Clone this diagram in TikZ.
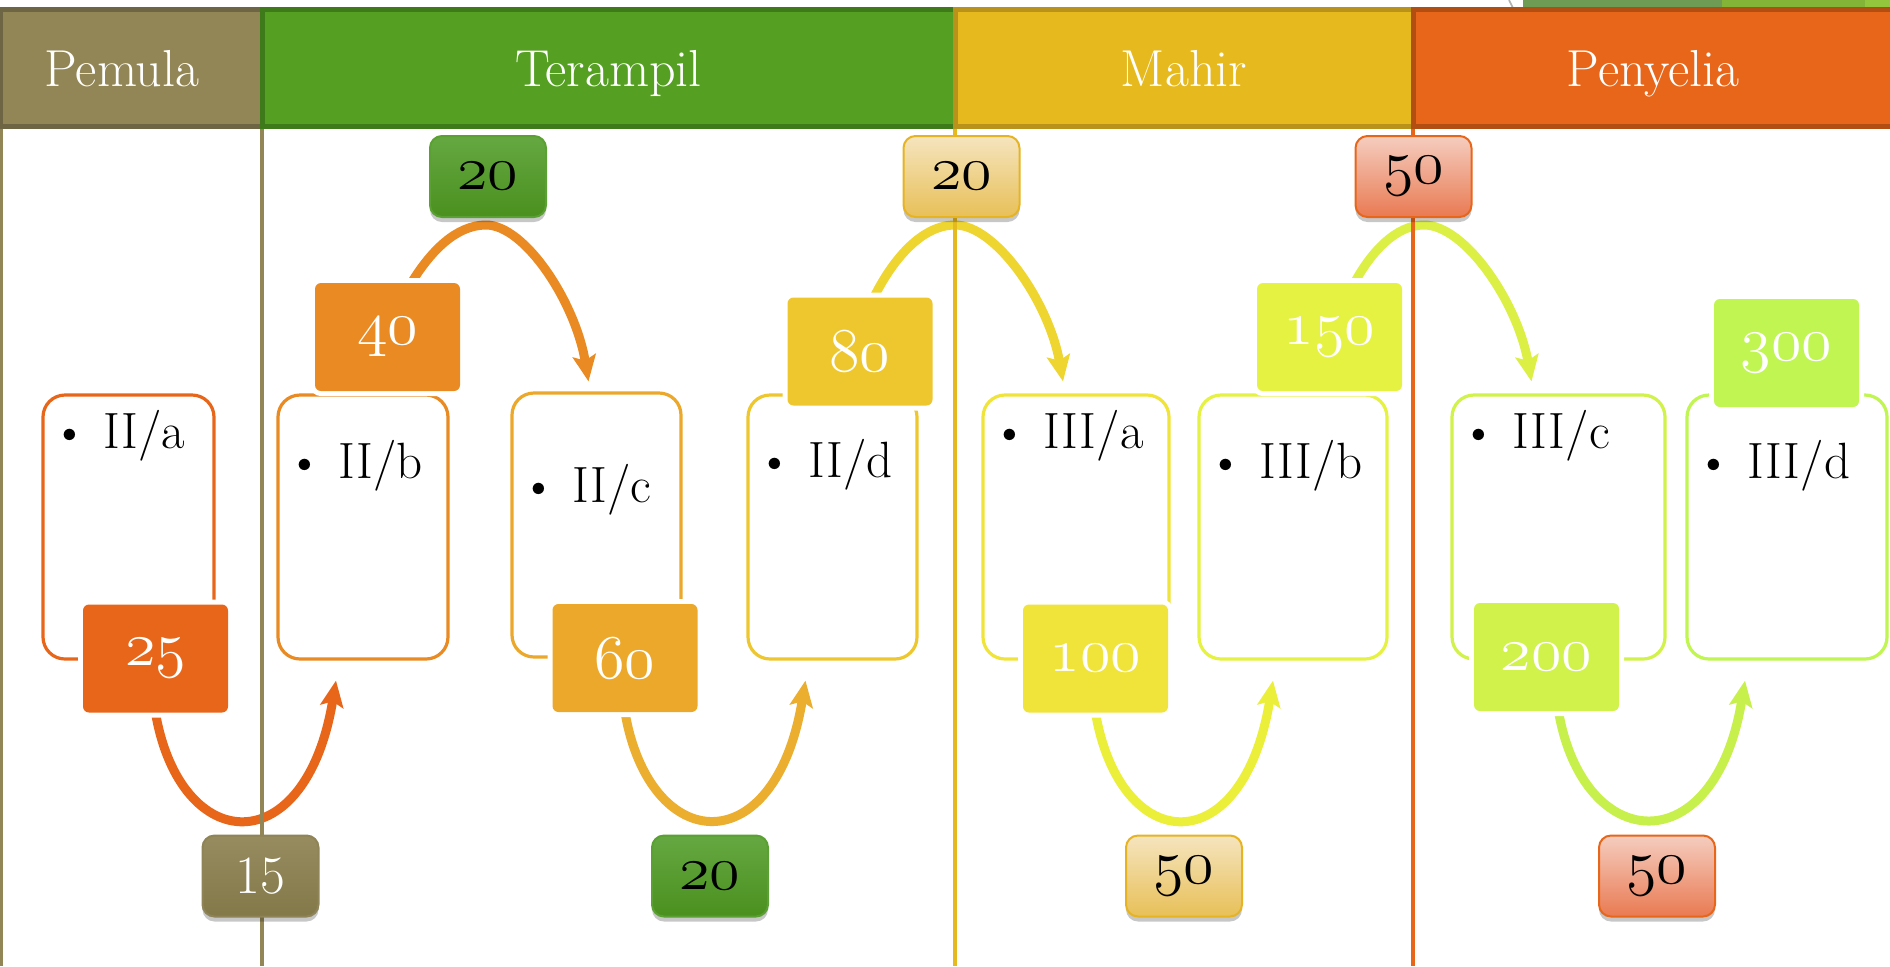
\documentclass[tikz,border=0pt]{standalone}
\usepackage{graphicx}
\usetikzlibrary{arrows.meta,shadows,calc}
\pgfdeclarelayer{bglayer}
\pgfdeclarelayer{arrowlayer}
\pgfsetlayers{bglayer,arrowlayer,main}
\definecolor{cPem}{HTML}{928656}
\definecolor{cPemD}{HTML}{6E6545}
\definecolor{cTer}{HTML}{55A023}
\definecolor{cTerD}{HTML}{3E7A1A}
\definecolor{cMah}{HTML}{E6B91E}
\definecolor{cMahD}{HTML}{B8921A}
\definecolor{cPen}{HTML}{E8661A}
\definecolor{cPenD}{HTML}{B34E12}
\definecolor{k1}{HTML}{E8661A}
\definecolor{k2}{HTML}{E98A22}
\definecolor{k3}{HTML}{ECA82A}
\definecolor{k4}{HTML}{EEC72E}
\definecolor{k5}{HTML}{F0E43A}
\definecolor{k6}{HTML}{E6F242}
\definecolor{k7}{HTML}{D0F24A}
\definecolor{k8}{HTML}{C0F552}
\definecolor{a3}{HTML}{EBAE2E}
\definecolor{a4}{HTML}{EED52F}
\definecolor{a5}{HTML}{ECEF3A}
\definecolor{a6}{HTML}{DCEF45}
\definecolor{a7}{HTML}{C8F04C}
\definecolor{gT}{HTML}{65A842}
\definecolor{gB}{HTML}{4A901E}
\definecolor{gD}{HTML}{5AA032}
\definecolor{yT}{HTML}{F5E4BE}
\definecolor{yB}{HTML}{E8C058}
\definecolor{yD}{HTML}{E6B422}
\definecolor{rT}{HTML}{F5CDBF}
\definecolor{rB}{HTML}{E97A52}
\definecolor{rD}{HTML}{E8661A}
\definecolor{oT}{HTML}{978C60}
\definecolor{oB}{HTML}{837848}
\definecolor{oD}{HTML}{8E8458}
\definecolor{dec1}{HTML}{6F9C55}
\definecolor{dec2}{HTML}{83B337}
\definecolor{dec3}{HTML}{93C53D}
\newcommand\bulfont{\fontsize{25.5}{30}\selectfont}
\newcommand\hdrfont{\fontsize{26}{31}\selectfont}
\newcommand\linfont{\fontsize{27}{32}\selectfont}
\newcommand\osn[1]{\scalebox{1.25}{\usefont{OML}{cmm}{m}{it}\fontsize{24.88}{30}\selectfont #1}}
\begin{document}
\begin{tikzpicture}[x=0.5pt,y=-0.5pt,
  hdr/.style 2 args={rectangle, fill=#1, draw=#2, minimum height=58.5pt, line width=2.5pt, text=white, font=\hdrfont, text height=18.5pt, text depth=0pt, inner sep=0pt, outer sep=0pt},
  item/.style={rectangle, draw=#1, fill=white, line width=1.6pt, rounded corners=11pt, minimum height=132pt, inner sep=0pt},
  val/.style={rectangle, fill=#1, rounded corners=3pt, minimum width=72.5pt, minimum height=54pt, text=white, inner sep=0pt, preaction={draw=white, line width=5pt}},
  sbox/.style n args={3}{rectangle, top color=#1, bottom color=#2, draw=#3, line width=1pt, rounded corners=6pt, minimum width=58pt, minimum height=40.5pt, inner sep=0pt, drop shadow={shadow xshift=0pt, shadow yshift=-2.5pt, opacity=0.22, fill=black}},
  bul/.style={anchor=base west, inner sep=0pt, font=\bulfont},
  arr/.style={draw=#1, line width=4.5pt, -{Stealth[length=13pt,width=11.5pt,inset=2.5pt]}},
  vline/.style={draw=#1, line width=1.8pt}
]
\useasboundingbox (0,0) rectangle (1890,966);
\begin{pgfonlayer}{bglayer}
\fill[white] (0,0) rectangle (1890,966);
\end{pgfonlayer}

% top-right decoration
\fill[dec1] (1523,0) rectangle (1722,8);
\fill[dec2] (1722,0) rectangle (1865,8);
\fill[dec3] (1865,0) rectangle (1890,8);
\draw[gray!60, line width=0.8pt] (1509,0) -- (1513,8);

% header
\node[hdr={cPem}{cPemD}, minimum width=131pt] (hPem) at (131,67.5) {\hspace{-9pt}Pemula};
\node[hdr={cTer}{cTerD}, minimum width=346.5pt] (hTer) at (608.5,67.5) {Terampil};
\node[hdr={cMah}{cMahD}, minimum width=229pt] (hMah) at (1184,67.5) {Mahir};
\node[hdr={cPen}{cPenD}, minimum width=240pt] (hPen) at (1653,67.5) {Penyelia};

% item boxes
\node[item=k1, minimum width=85.5pt] (b1) at (128.5,527) {};
\node[item=k2, minimum width=85pt]   (b2) at (363,527) {};
\node[item=k3, minimum width=84.5pt] (b3) at (596.5,525) {};
\node[item=k4, minimum width=84.5pt] (b4) at (832.5,527) {};
\node[item=k5, minimum width=93pt]   (b5) at (1076,527) {};
\node[item=k6, minimum width=94pt]   (b6) at (1293,527) {};
\node[item=k7, minimum width=106.5pt] (b7) at (1558.5,527) {};
\node[item=k8, minimum width=100pt]  (b8) at (1787,527) {};

% bullet labels
\node[bul] (l1) at ($(b1.north west)+(10,55)$) {\makebox[26pt][l]{\textbullet}II/a};
\node[bul] (l2) at ($(b2.north west)+(10,85)$) {\makebox[26pt][l]{\textbullet}II/b};
\node[bul] (l3) at ($(b3.north west)+(10,111)$) {\makebox[26pt][l]{\textbullet}II/c};
\node[bul] (l4) at ($(b4.north west)+(10,84)$) {\makebox[26pt][l]{\textbullet}II/d};
\node[bul] (l5) at ($(b5.north west)+(10,55)$) {\makebox[26pt][l]{\textbullet}III/a};
\node[bul] (l6) at ($(b6.north west)+(10,85)$) {\makebox[26pt][l]{\textbullet}III/b};
\node[bul] (l7) at ($(b7.north west)+(10,55)$) {\makebox[26pt][l]{\textbullet}III/c};
\node[bul] (l8) at ($(b8.north west)+(10,85)$) {\makebox[26pt][l]{\textbullet}III/d};

% value boxes
\node[val=k1] (v25)  at (155.5,658.5) {\osn{25}};
\node[val=k2] (v40)  at (387.5,337)   {\osn{40}};
\node[val=k3] (v60)  at (625,658)     {\osn{60}};
\node[val=k4] (v80)  at (860,351.5)   {\osn{80}};
\node[val=k5] (v100) at (1095.5,658.5){\osn{100}};
\node[val=k6] (v150) at (1329.5,337)  {\osn{150}};
\node[val=k7] (v200) at (1546.5,657)  {\osn{200}};
\node[val=k8] (v300) at (1786.5,353)  {\osn{300}};

% arrows and column lines (below the boxes)
\coordinate (ap2) at (486,225);
\coordinate (ap4) at (955,225);
\coordinate (ap6) at (1424,225);
\begin{pgfonlayer}{arrowlayer}
\draw[arr=k1] (v25.south) .. controls +(25,144) and +(-30,183) .. ($(b2.south)+(-27,20)$);
\draw[arr=a3] (v60.south) .. controls +(25,144) and +(-30,183) .. ($(b4.south)+(-27,20)$);
\draw[arr=a5] (v100.south) .. controls +(25,144) and +(-30,183) .. ($(b6.south)+(-20,20)$);
\draw[arr=a7] ($(v200.south)+(12,0)$) .. controls +(25,144) and +(-30,183) .. ($(b8.south)+(-42,20)$);
\draw[arr=k2] ($(v40.north)+(24,0)$) .. controls +(19,-31) and +(-30,0) .. (ap2) .. controls +(39,0) and +(-13,-79) .. ($(b3.north)+(-8,-10)$);
\draw[arr=a4] ($(v80.north)+(14,0)$) .. controls +(20,-40) and +(-32,0) .. (ap4) .. controls +(41,0) and +(-14,-79) .. ($(b5.north)+(-13,-12)$);
\draw[arr=a6] ($(v150.north)+(25,0)$) .. controls +(17,-31) and +(-28,0) .. (ap6) .. controls +(41,0) and +(-14,-79) .. ($(b7.north)+(-27,-12)$);
\coordinate (bot) at (0,966);
\draw[vline=cPem] (1.5,128) -- (1.5,966);
\draw[vline=cPem] (hPem.south east) -- (hPem.south east |- bot);
\draw[vline=cMah] (hMah.south west) -- (hMah.south west |- bot);
\draw[vline=cPen] (hPen.south west) -- (hPen.south west |- bot);
\end{pgfonlayer}

% small boxes
\node[sbox={gT}{gB}{gD}] (s1) at (488,176.5)  {\osn{20}};
\node[sbox={yT}{yB}{yD}] (s2) at (961.5,176.5) {\osn{20}};
\node[sbox={rT}{rB}{rD}] (s3) at (1413.5,176.5) {\osn{50}};
\node[sbox={oT}{oB}{oD}, text=white, font=\linfont] (s4) at (260.5,876) {15};
\node[sbox={gT}{gB}{gD}] (s5) at (710,876)   {\osn{20}};
\node[sbox={yT}{yB}{yD}] (s6) at (1184,876)  {\osn{50}};
\node[sbox={rT}{rB}{rD}] (s7) at (1657,876)  {\osn{50}};
\end{tikzpicture}
\end{document}
